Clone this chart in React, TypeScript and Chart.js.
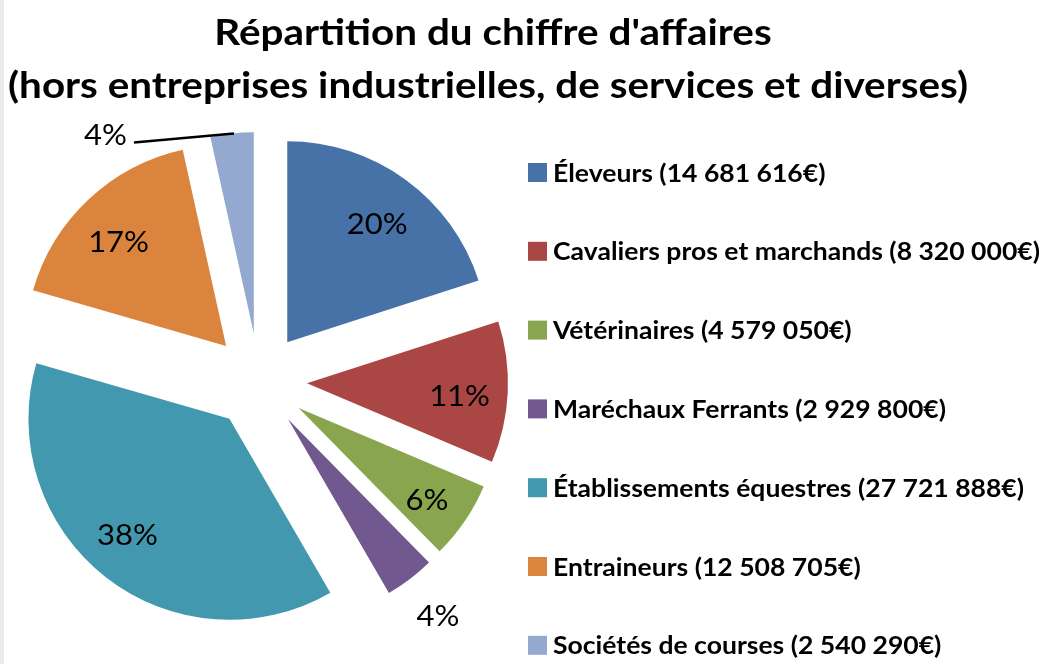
import React, { useEffect, useRef } from "react";
import { Chart, registerables } from "chart.js";

Chart.register(...registerables);

const TITLE_LINES = [
  "Répartition du chiffre d'affaires",
  "(hors entreprises industrielles, de services et diverses)",
];
const CATEGORIES = [
  "Éleveurs",
  "Cavaliers pros et marchands",
  "Vétérinaires",
  "Maréchaux Ferrants",
  "Établissements équestres",
  "Entraineurs",
  "Sociétés de courses",
];
const AMOUNT_LABELS = [
  "14 681 616€",
  "8 320 000€",
  "4 579 050€",
  "2 929 800€",
  "27 721 888€",
  "12 508 705€",
  "2 540 290€",
];
const VALUES = [14681616, 8320000, 4579050, 2929800, 27721888, 12508705, 2540290];
const PERCENT_LABELS = ["20%", "11%", "6%", "4%", "38%", "17%", "4%"];
const COLORS = ["#4672A8", "#AA4643", "#89A54E", "#71588F", "#4298AF", "#DB843D", "#93A9CF"];
// label placement style per slice
const LABEL_MODE = ["in", "in", "in", "out", "in", "in", "leader"];
// small label nudges (px), style only
const LABEL_NUDGE_X = [0, 0, 2, 0, -8, -3, 0];
const LABEL_NUDGE_Y = [6, 7, 7, 1, -4, 8, 2];

const EXPLODE = 48;
const RADIUS = 201;

function stretchText(ctx: CanvasRenderingContext2D, text: string, x: number, y: number, sx: number) {
  ctx.save();
  ctx.translate(x, y);
  ctx.scale(sx, 1);
  ctx.fillText(text, 0, 0);
  ctx.restore();
}

const explodePlugin = {
  id: "explode",
  beforeDatasetDraw(chart: any, args: any) {
    const ctx = chart.ctx;
    const meta = args.meta;
    meta.data.forEach((arc: any) => {
      const mid = (arc.startAngle + arc.endAngle) / 2;
      ctx.save();
      ctx.translate(Math.cos(mid) * EXPLODE, Math.sin(mid) * EXPLODE);
      arc.draw(ctx, chart.chartArea);
      ctx.restore();
    });
    return false;
  },
  afterDatasetsDraw(chart: any) {
    const ctx = chart.ctx;
    const meta = chart.getDatasetMeta(0);
    ctx.save();
    ctx.fillStyle = "#000";
    ctx.font = "29px Lato";
    ctx.textBaseline = "middle";
    const sx = 1.07;
    meta.data.forEach((arc: any, i: number) => {
      const mid = (arc.startAngle + arc.endAngle) / 2;
      const cx = arc.x + Math.cos(mid) * EXPLODE;
      const cy = arc.y + Math.sin(mid) * EXPLODE;
      const r = arc.outerRadius;
      const mode = LABEL_MODE[i];
      const nx = LABEL_NUDGE_X[i];
      const ny = LABEL_NUDGE_Y[i];
      if (mode === "in" || mode === "out") {
        const f = mode === "in" ? 0.76 : 1.23;
        ctx.textAlign = "center";
        stretchText(
          ctx,
          PERCENT_LABELS[i],
          cx + Math.cos(mid) * r * f + nx,
          cy + Math.sin(mid) * r * f + ny,
          sx
        );
      } else {
        const ax = cx + Math.cos(mid) * r;
        const ay = cy + Math.sin(mid) * r;
        const bx = ax - 98;
        const by = ay + 9;
        ctx.strokeStyle = "#000";
        ctx.lineWidth = 2.6;
        ctx.beginPath();
        ctx.moveTo(ax + 2, ay);
        ctx.lineTo(bx, by);
        ctx.stroke();
        ctx.textAlign = "right";
        stretchText(ctx, PERCENT_LABELS[i], bx - 7 + nx, ay + ny, sx);
      }
    });
    ctx.restore();
  },
  afterDraw(chart: any) {
    const ctx = chart.ctx;
    ctx.save();
    // title
    ctx.fillStyle = "#000";
    ctx.font = "bold 37px Lato";
    ctx.textAlign = "center";
    ctx.textBaseline = "alphabetic";
    const tsx = 960 / ctx.measureText(TITLE_LINES[1]).width;
    stretchText(ctx, TITLE_LINES[0], 493, 45, tsx);
    stretchText(ctx, TITLE_LINES[1], 488, 98, tsx);
    // legend
    const ds = chart.data.datasets[0];
    ctx.font = "bold 25px Lato";
    ctx.textAlign = "left";
    ctx.textBaseline = "alphabetic";
    const texts = CATEGORIES.map((c, i) => `${c} (${AMOUNT_LABELS[i]})`);
    const lsx = 487 / ctx.measureText(texts[1]).width;
    texts.forEach((t, i) => {
      const yc = 172.5 + i * 78.8;
      ctx.fillStyle = ds.backgroundColor[i];
      ctx.fillRect(528, yc - 9.5, 19, 19);
      ctx.fillStyle = "#000";
      stretchText(ctx, t, 553, yc + 9, lsx);
    });
    ctx.restore();
  },
};

export default function App() {
  const ref = useRef<HTMLCanvasElement | null>(null);
  useEffect(() => {
    if (!ref.current) return;
    const chart = new Chart(ref.current, {
      type: "pie",
      data: {
        labels: CATEGORIES,
        datasets: [
          {
            data: VALUES,
            backgroundColor: COLORS,
            borderWidth: 0,
            offset: 0,
          },
        ],
      },
      options: {
        animation: false,
        responsive: true,
        maintainAspectRatio: false,
        radius: RADIUS,
        layout: { padding: { left: 0, right: 528, top: 98, bottom: 0 } },
        plugins: {
          legend: { display: false },
          title: { display: false },
          tooltip: { enabled: false },
        },
      } as any,
      plugins: [explodePlugin],
    });
    return () => chart.destroy();
  }, []);
  return (
    <div
      style={{
        position: "fixed",
        left: 0,
        top: 0,
        width: 1046,
        height: 664,
        background: "#fff",
        boxSizing: "border-box",
        borderLeft: "4px solid #EBEBE7",
      }}
    >
      <div style={{ position: "absolute", left: -4, top: 0, width: 1046, height: 664 }}>
        <canvas ref={ref} />
      </div>
    </div>
  );
}
